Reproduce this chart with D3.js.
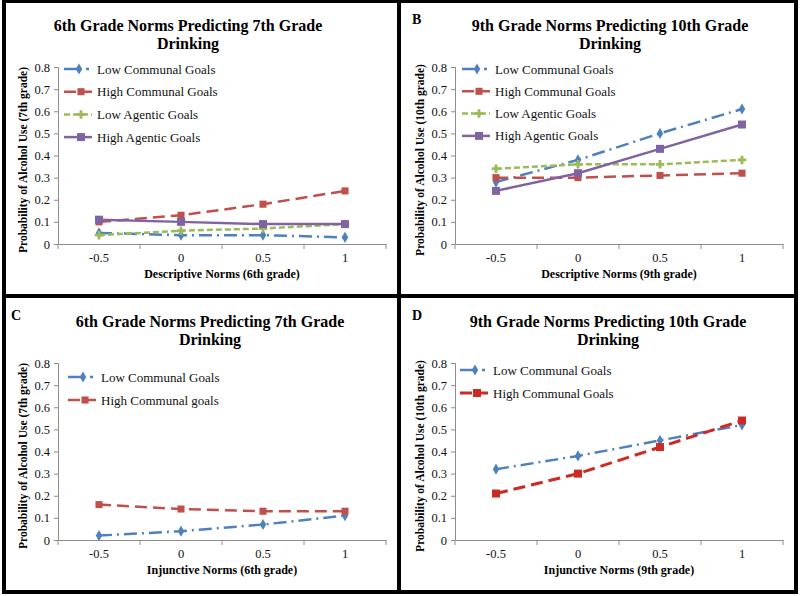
<!DOCTYPE html>
<html><head><meta charset="utf-8">
<script src="https://cdn.jsdelivr.net/npm/d3@7/dist/d3.min.js"></script>
<style>body{margin:0;background:#fff}svg{display:block}</style>
</head><body><svg id="chart" width="800" height="596" style="font-family:'Liberation Serif',serif"></svg>
<script>
// ---- data ----
const xCategories = ["-0.5", "0", "0.5", "1"];
const yTickValues = [0, 0.1, 0.2, 0.3, 0.4, 0.5, 0.6, 0.7, 0.8];

const aLowCommunal  = [0.05, 0.04, 0.04, 0.03];
const aHighCommunal = [0.10, 0.13, 0.18, 0.24];
const aLowAgentic   = [0.04, 0.06, 0.07, 0.09];
const aHighAgentic  = [0.11, 0.10, 0.09, 0.09];

const bLowCommunal  = [0.28, 0.38, 0.50, 0.61];
const bHighCommunal = [0.30, 0.30, 0.31, 0.32];
const bLowAgentic   = [0.34, 0.36, 0.36, 0.38];
const bHighAgentic  = [0.24, 0.32, 0.43, 0.54];

const cLowCommunal  = [0.02, 0.04, 0.07, 0.11];
const cHighCommunal = [0.16, 0.14, 0.13, 0.13];

const dLowCommunal  = [0.32, 0.38, 0.45, 0.52];
const dHighCommunal = [0.21, 0.30, 0.42, 0.54];

const titlesTop = ["6th Grade Norms Predicting 7th Grade", "9th Grade Norms Predicting 10th Grade",
                   "6th Grade Norms Predicting 7th Grade", "9th Grade Norms Predicting 10th Grade"];
const panelLetters = ["", "B", "C", "D"];
const xTitles = ["Descriptive Norms (6th grade)", "Descriptive Norms (9th grade)",
                 "Injunctive Norms (6th grade)", "Injunctive Norms (9th grade)"];
const yTitles = ["Probability of Alcohol Use (7th grade)", "Probability of Alcohol Use (10th grade)",
                 "Probability of Alcohol Use (7th grade)", "Probability of Alcohol Use (10th grade)"];

// ---- styles ----
const FONT = "Liberation Serif";
const S = {
  lowComm:  {color: "#4F81BD", dash: "13,5,2,5", sym: d3.symbolDiamond, size: 36, w: 2.5},
  highComm: {color: "#C0504D", dash: "12,6", sym: d3.symbolSquare, size: 50, w: 2.5},
  lowAg:    {color: "#9BBB59", dash: "6,3", sym: d3.symbolCross, size: 40, w: 2.5},
  highAg:   {color: "#8064A2", dash: null, sym: d3.symbolSquare, size: 64, w: 2.5},
  highCommD:{color: "#CC2B24", dash: "12,6", sym: d3.symbolSquare, size: 64, w: 3}
};

const panels = [
  {ox: 0, oy: 0, axisX: 58, titleX: 188, legX: 64, legY: 69, legStep: 22.7,
   series: [["Low Communal Goals", aLowCommunal, S.lowComm], ["High Communal Goals", aHighCommunal, S.highComm],
            ["Low Agentic Goals", aLowAgentic, S.lowAg], ["High Agentic Goals", aHighAgentic, S.highAg]]},
  {ox: 400, oy: 0, axisX: 55, titleX: 210, legX: 62, legY: 69, legStep: 22.3,
   series: [["Low Communal Goals", bLowCommunal, S.lowComm], ["High Communal Goals", bHighCommunal, S.highComm],
            ["Low Agentic Goals", bLowAgentic, S.lowAg], ["High Agentic Goals", bHighAgentic, S.highAg]]},
  {ox: 0, oy: 296, axisX: 58, titleX: 210, legX: 68, legY: 81, legStep: 23,
   series: [["Low Communal Goals", cLowCommunal, S.lowComm], ["High Communal goals", cHighCommunal, S.highComm]]},
  {ox: 400, oy: 296, axisX: 55, titleX: 208, legX: 60, legY: 74, legStep: 23,
   series: [["Low Communal Goals", dLowCommunal, S.lowComm], ["High Communal Goals", dHighCommunal, S.highCommD]]}
];

const svg = d3.select("#chart");
svg.append("rect").attr("width", 800).attr("height", 596).attr("fill", "#fff");

panels.forEach((p, i) => {
  const g = svg.append("g").attr("transform", `translate(${p.ox},${p.oy})`);
  const x = d3.scaleBand().domain(xCategories).range([p.axisX, p.axisX + 328]);
  const y = d3.scaleLinear().domain([0, 0.8]).range([244, 67]);

  // title
  const t = g.append("text").attr("x", p.titleX).attr("text-anchor", "middle")
    .attr("font-weight", "bold").attr("font-size", 16).attr("fill", "#000");
  t.append("tspan").attr("x", p.titleX).attr("y", 31).text(titlesTop[i]);
  t.append("tspan").attr("x", p.titleX).attr("y", 49).text("Drinking");
  if (panelLetters[i]) {
    g.append("text").attr("x", i % 2 ? 12 : 11).attr("y", 24).attr("font-weight", "bold")
      .attr("font-size", 14).attr("fill", "#000").text(panelLetters[i]);
  }

  // axes
  const yAxis = d3.axisLeft(y).tickValues(yTickValues).tickSize(4).tickPadding(4)
    .tickFormat(d => d === 0 ? "0" : d3.format(".1f")(d));
  const ya = g.append("g").attr("transform", `translate(${p.axisX},0)`).call(yAxis);
  const xAxis = d3.axisBottom(x).tickSize(0).tickPadding(9);
  const xa = g.append("g").attr("transform", `translate(0,244)`).call(xAxis);
  const bounds = xCategories.map(c => x(c)).concat([x.range()[1]]);
  xa.selectAll(".bound").data(bounds).enter().append("line").attr("class", "bound")
    .attr("x1", d => d).attr("x2", d => d).attr("y1", 0).attr("y2", 5);
  [ya, xa].forEach(a => {
    a.attr("font-family", null).attr("font-size", null);
    a.select(".domain").attr("stroke", "#8c8c8c").attr("stroke-width", 1);
    a.selectAll("line").attr("stroke", "#8c8c8c");
    a.selectAll("text").attr("font-size", 12.5).attr("fill", "#111");
  });

  // axis titles
  g.append("text").attr("x", p.axisX + 164).attr("y", 278).attr("text-anchor", "middle")
    .attr("font-weight", "bold").attr("font-size", 12).attr("fill", "#000").text(xTitles[i]);
  g.append("text").attr("transform", `translate(${p.axisX - 31},${160}) rotate(-90)`)
    .attr("text-anchor", "middle").attr("font-weight", "bold").attr("font-size", 11.5)
    .attr("fill", "#000").text(yTitles[i]);

  // series
  const line = d3.line().x((d, j) => x(xCategories[j]) + x.bandwidth() / 2).y(d => y(d));
  p.series.forEach(([name, vals, st]) => {
    g.append("path").datum(vals).attr("d", line).attr("fill", "none")
      .attr("stroke", st.color).attr("stroke-width", st.w)
      .attr("stroke-dasharray", st.dash);
    g.selectAll(null).data(vals).enter().append("path")
      .attr("d", d3.symbol().type(st.sym).size(st.size))
      .attr("transform", (d, j) => `translate(${x(xCategories[j]) + x.bandwidth() / 2},${y(d)})`)
      .attr("fill", st.color);
  });

  // legend
  p.series.forEach(([name, vals, st], k) => {
    const ly = p.legY + k * p.legStep;
    const lg = g.append("g").attr("transform", `translate(${p.legX},${ly})`);
    lg.append("line").attr("x1", 0).attr("x2", 28).attr("y1", 0).attr("y2", 0)
      .attr("stroke", st.color).attr("stroke-width", st.w)
      .attr("stroke-dasharray", st === S.lowComm ? "16,6,3,6" : st.dash);
    lg.append("path").attr("d", d3.symbol().type(st.sym).size(st.size))
      .attr("transform", `translate(${st === S.lowComm ? 15 : 17},0)`)
      .attr("fill", st.color);
    lg.append("text").attr("x", 33).attr("y", 4.5).attr("font-size", 13).attr("fill", "#111").text(name);
  });
});

svg.selectAll("text").style("font-family", FONT);

// frame
const frame = svg.append("g").attr("fill", "none").attr("stroke", "#000").attr("stroke-width", 4);
frame.append("rect").attr("x", 4).attr("y", 1).attr("width", 792).attr("height", 591);
frame.append("line").attr("x1", 399).attr("x2", 399).attr("y1", 0).attr("y2", 593);
frame.append("line").attr("x1", 2).attr("x2", 798).attr("y1", 296).attr("y2", 296);
</script></body></html>
